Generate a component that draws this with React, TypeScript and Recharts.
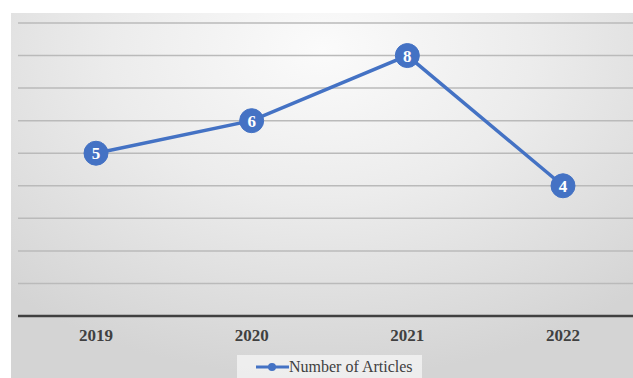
import React from 'react';
import { LineChart, Line, XAxis, YAxis, CartesianGrid, LabelList, Legend } from 'recharts';

const years = ['2019', '2020', '2021', '2022'];
const articles = [5, 6, 8, 4];
const yTicks = [0, 1, 2, 3, 4, 5, 6, 7, 8, 9];
const seriesName = 'Number of Articles';

const data = years.map((y, i) => ({ year: y, value: articles[i] }));

const BLUE = '#4472C4';
const FONT = '"Liberation Serif", "Times New Roman", serif';

const LegendContent = () => (
  <div
    style={{
      width: 185,
      height: 23,
      background: 'rgba(245,245,245,0.75)',
      display: 'flex',
      alignItems: 'center',
      boxSizing: 'border-box',
      paddingLeft: 19,
      fontFamily: FONT,
      fontSize: 16,
      color: '#404040',
    }}
  >
    <svg width={33} height={10} style={{ display: 'block' }}>
      <line x1={0} y1={5} x2={33} y2={5} stroke={BLUE} strokeWidth={3} />
      <circle cx={16} cy={5} r={4} fill={BLUE} />
    </svg>
    <span style={{ marginLeft: 0, lineHeight: '23px' }}>{seriesName}</span>
  </div>
);

export default function App() {
  return (
    <div style={{ position: 'absolute', left: 0, top: 0, width: 633, height: 378, background: '#fff', overflow: 'hidden' }}>
      <div
        style={{
          position: 'absolute',
          left: 11,
          top: 13,
          width: 622,
          height: 365,
          background: 'radial-gradient(ellipse 75% 90% at 50% 10%, #fbfbfb 0%, #ececec 45%, #d4d4d4 100%)',
        }}
      />
      <div style={{ position: 'absolute', left: 0, top: 0 }}>
        <LineChart width={633} height={378} data={data} margin={{ top: 23, right: 0, left: 18, bottom: 32 }}>
          <CartesianGrid vertical={false} stroke="#bababa" strokeWidth={1.5} />
          <YAxis hide domain={[0, 9]} ticks={yTicks} />
          <XAxis
            dataKey="year"
            height={30}
            axisLine={{ stroke: '#404040', strokeWidth: 2.5 }}
            tickLine={false}
            padding={{ left: 78, right: 70 }}
            tickMargin={7}
            tick={{ fill: '#404040', fontFamily: FONT, fontWeight: 'bold', fontSize: 17 }}
          />
          <Legend
            layout="horizontal"
            verticalAlign="middle"
            content={<LegendContent />}
            wrapperStyle={{ position: 'absolute', left: 237, top: 355, width: 185, height: 23 }}
          />
          <Line
            type="linear"
            dataKey="value"
            name={seriesName}
            stroke={BLUE}
            strokeWidth={3.5}
            dot={{ r: 12, fill: BLUE, stroke: BLUE, strokeWidth: 1 }}
            activeDot={false}
            isAnimationActive={false}
          >
            <LabelList
              dataKey="value"
              position="center"
              fill="#ffffff"
              style={{ fontFamily: FONT, fontWeight: 'bold', fontSize: 17 }}
            />
          </Line>
        </LineChart>
      </div>
    </div>
  );
}
